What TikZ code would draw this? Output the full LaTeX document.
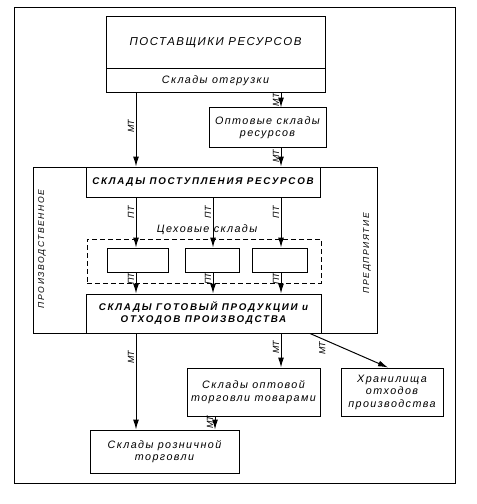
\documentclass[tikz,border=0pt]{standalone}
\usepackage{fontspec}
\setmainfont{Liberation Sans}
\newfontfamily\spf[LetterSpace=13]{Liberation Sans}
\newfontfamily\spw[LetterSpace=18]{Liberation Sans}
\usetikzlibrary{arrows.meta}
\begin{document}
\begin{tikzpicture}[x=1bp,y=-1bp,
  box/.style={draw,line width=1pt,inner sep=0pt,align=center,font=\spf\itshape\fontsize{10.8}{12.5}\selectfont},
  arr/.style={line width=1pt,-{Latex[length=10pt,width=6pt]}},
  lab/.style={rotate=90,anchor=south,inner sep=1.5pt,font=\itshape\fontsize{9}{10}\selectfont}]
\useasboundingbox (0,0) rectangle (477,504);
\node[draw,line width=1pt,minimum width=440bp,minimum height=475bp,inner sep=0pt] (frame) at (235,245.5) {};
% enterprise
\node[draw,line width=1pt,minimum width=344bp,minimum height=166bp,inner sep=0pt] (ent) at (205,250) {};
\node[rotate=90,font=\spw\itshape\fontsize{8.6}{10}\selectfont] (l1) at (42,249) {ПРОИЗВОДСТВЕННОЕ};
\node[rotate=90,font=\spw\itshape\fontsize{8.6}{10}\selectfont] (l2) at (367,253) {ПРЕДПРИЯТИЕ};
% boxes
\node[box,minimum width=219bp,minimum height=52bp,font=\spf\itshape\fontsize{11.5}{13}\selectfont] (supT) at (215.5,43) {ПОСТАВЩИКИ РЕСУРСОВ};
\node[box,minimum width=219bp,minimum height=24bp] (supB) at (215.5,81) {Склады отгрузки};
\node[box,minimum width=117bp,minimum height=39bp] (opt) at (267.5,127.5) {Оптовые склады\\ресурсов};
\node[box,minimum width=234bp,minimum height=30bp,font=\spw\itshape\bfseries\fontsize{9.8}{11}\selectfont] (recv) at (203,182) {СКЛАДЫ ПОСТУПЛЕНИЯ РЕСУРСОВ};
\node[draw,dashed,dash pattern=on 5pt off 3pt,line width=1pt,minimum width=234bp,minimum height=44bp,inner sep=0pt] (dsh) at (204,261) {};
\node[font=\spf\itshape\fontsize{10.8}{12}\selectfont] (dl) at (207,230) {Цеховые склады};
\node[box,minimum width=61bp,minimum height=24bp] (w1) at (137.5,260) {};
\node[box,minimum width=54bp,minimum height=24bp] (w2) at (212,260) {};
\node[box,minimum width=55bp,minimum height=24bp] (w3) at (279.5,260) {};
\node[box,minimum width=235bp,minimum height=39bp,font=\spw\itshape\bfseries\fontsize{9.8}{12}\selectfont] (fin) at (203.5,313.5) {СКЛАДЫ ГОТОВЫЙ ПРОДУКЦИИ и\\ОТХОДОВ ПРОИЗВОДСТВА};
\node[box,minimum width=133bp,minimum height=48bp] (tw) at (253.5,392) {Склады оптовой\\торговли товарами};
\node[box,minimum width=102bp,minimum height=48bp] (ws) at (392,392) {Хранилища\\отходов\\производства};
\node[box,minimum width=149bp,minimum height=43bp] (ret) at (164.5,451.5) {Склады розничной\\торговли};
% x coordinates
\coordinate (xa) at (136,0);
\coordinate (xb) at (213,0);
\coordinate (xc) at (281,0);
\coordinate (xd) at (215,0);
\coordinate (xs) at (310,0);
\coordinate (xt) at (388,0);
% arrows
\draw[arr] (supB.south -| xa) -- (recv.north -| xa) node[lab,pos=0.45] {МТ};
\draw[arr] (supB.south -| xc) -- (opt.north -| xc) node[lab,pos=0.45] {МТ};
\draw[arr] (opt.south -| xc) -- (recv.north -| xc) node[lab,pos=0.45] {МТ};
\foreach \c/\w in {xa/w1,xb/w2,xc/w3}{
  \draw[arr] (recv.south -| \c) -- (\w.north -| \c) node[lab,pos=0.3] {ПТ};
  \draw[arr] (\w.south -| \c) -- (fin.north -| \c) node[lab,pos=0.3] {ПТ};
}
\draw[arr] (fin.south -| xa) -- (ret.north -| xa) node[lab,pos=0.25] {МТ};
\draw[arr] (fin.south -| xc) -- (tw.north -| xc) node[lab,pos=0.4] {МТ};
\draw[arr] (fin.south -| xs) -- (ws.north -| xt);
\node[lab] (dlab) at (327,348) {МТ};
\draw[arr] (tw.south -| xd) -- (ret.north -| xd) node[lab,pos=0.45] {МТ};
\end{tikzpicture}
\end{document}
